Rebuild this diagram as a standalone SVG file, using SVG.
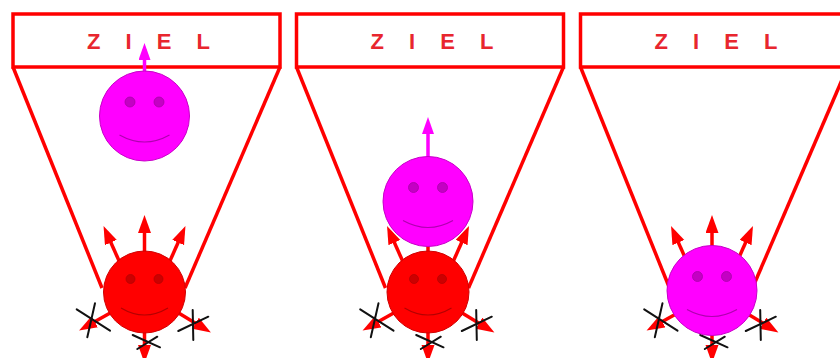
<svg xmlns="http://www.w3.org/2000/svg" width="840" height="358" viewBox="0 0 840 358">
  <style>
    .frame { fill: none; stroke: #ff0000; stroke-width: 3.5; stroke-linejoin: miter; }
    .goal { font-family: "Liberation Sans", Arial, sans-serif; font-size: 22px; font-weight: bold; letter-spacing: 9.5px; fill: #e8262e; }
    .push { fill: none; stroke: #ff0000; stroke-width: 3.5; marker-end: url(#headRed); }
    .lift { fill: none; stroke: #ff00ff; stroke-width: 3.5; marker-end: url(#headMagenta); }
    .block { stroke: #111111; stroke-width: 2; stroke-linecap: round; }
    .red-body { fill: #ff0000; stroke: #d00000; stroke-width: 1; }
    .red-eye { fill: #cc0000; stroke: #b80000; stroke-width: 0.8; }
    .red-mouth { fill: none; stroke: #b40000; stroke-width: 1.2; }
    .mag-body { fill: #ff00ff; stroke: #c800c8; stroke-width: 1; }
    .mag-eye { fill: #c400c4; stroke: #a800a8; stroke-width: 0.8; }
    .mag-mouth { fill: none; stroke: #b000b0; stroke-width: 1.2; }
  </style>
  <defs>
    <marker id="headRed" markerUnits="userSpaceOnUse" markerWidth="19" markerHeight="14" refX="11" refY="6.5" orient="auto">
      <path d="M0,0 L18,6.5 L0,13 Z" fill="#ff0000"/>
    </marker>
    <marker id="headMagenta" markerUnits="userSpaceOnUse" markerWidth="18" markerHeight="13" refX="11" refY="6" orient="auto">
      <path d="M0,0 L17,6 L0,12 Z" fill="#ff00ff"/>
    </marker>
    <!-- outward pushes of one body, centred on x=144.5 -->
    <g id="pushSet">
      <line class="push" x1="144.5" y1="262" x2="144.5" y2="222"/>
      <line class="push" x1="120" y1="263" x2="106.4" y2="232.5"/>
      <line class="push" x1="169" y1="263" x2="182.6" y2="232.5"/>
      <line class="push" x1="112" y1="312" x2="85.2" y2="327.1"/>
      <line class="push" x1="177" y1="312" x2="204.9" y2="328.9"/>
      <line class="push" x1="144.5" y1="325" x2="144.5" y2="356"/>
    </g>
    <!-- crosses over the blocked downward pushes -->
    <g id="blockSet">
      <line class="block" x1="76.7" y1="309.3" x2="110" y2="330.7"/>
      <line class="block" x1="95" y1="303.3" x2="87.3" y2="337.3"/>
      <line class="block" x1="178.3" y1="331" x2="208.3" y2="316.7"/>
      <line class="block" x1="192.7" y1="310" x2="193.3" y2="340"/>
      <line class="block" x1="132.7" y1="335" x2="160" y2="347.3"/>
      <line class="block" x1="137.3" y1="349" x2="157.3" y2="336.7"/>
    </g>
  </defs>

  <!-- goal funnels -->
  <g id="goal-1">
    <rect class="frame" x="13" y="14" width="267" height="53"/>
    <line class="frame" x1="13" y1="67" x2="102" y2="288"/>
    <line class="frame" x1="280" y1="67" x2="185" y2="288"/>
    <text class="goal" x="87" y="49">Z I E L</text>
  </g>
  <g id="goal-2">
    <rect class="frame" x="296.5" y="14" width="267" height="53"/>
    <line class="frame" x1="296.5" y1="67" x2="385.5" y2="288"/>
    <line class="frame" x1="563.5" y1="67" x2="468.5" y2="288"/>
    <text class="goal" x="370.5" y="49">Z I E L</text>
  </g>
  <g id="goal-3">
    <rect class="frame" x="580.5" y="14" width="267" height="53"/>
    <line class="frame" x1="580.5" y1="67" x2="669.5" y2="288"/>
    <line class="frame" x1="847.5" y1="67" x2="752.5" y2="288"/>
    <text class="goal" x="654.5" y="49">Z I E L</text>
  </g>

  <!-- pushes, their blocks and the free lifts -->
  <g id="connectors">
    <use href="#pushSet"/>
    <use href="#pushSet" transform="translate(283.5,0)"/>
    <use href="#pushSet" transform="translate(567.5,0)"/>
    <use href="#blockSet"/>
    <use href="#blockSet" transform="translate(283.5,0)"/>
    <use href="#blockSet" transform="translate(567.5,0)"/>
    <line class="lift" x1="144.5" y1="76" x2="144.5" y2="49"/>
    <line class="lift" x1="428" y1="160" x2="428" y2="123"/>
  </g>

  <!-- bodies -->
  <g id="red-1" transform="translate(144.5,292)">
    <circle class="red-body" r="41"/>
    <circle class="red-eye" cx="-14" cy="-13" r="4.5"/>
    <circle class="red-eye" cx="14" cy="-13" r="4.5"/>
    <path class="red-mouth" d="M-23.5,16 Q0,30 23.5,16"/>
  </g>
  <g id="red-2" transform="translate(428,292)">
    <circle class="red-body" r="41"/>
    <circle class="red-eye" cx="-14" cy="-13" r="4.5"/>
    <circle class="red-eye" cx="14" cy="-13" r="4.5"/>
    <path class="red-mouth" d="M-23.5,16 Q0,30 23.5,16"/>
  </g>
  <g id="magenta-1" transform="translate(144.5,116)">
    <circle class="mag-body" r="45"/>
    <circle class="mag-eye" cx="-14.5" cy="-14" r="5"/>
    <circle class="mag-eye" cx="14.5" cy="-14" r="5"/>
    <path class="mag-mouth" d="M-25,19 Q0,33 25,19"/>
  </g>
  <g id="magenta-2" transform="translate(428,201.5)">
    <circle class="mag-body" r="45"/>
    <circle class="mag-eye" cx="-14.5" cy="-14" r="5"/>
    <circle class="mag-eye" cx="14.5" cy="-14" r="5"/>
    <path class="mag-mouth" d="M-25,19 Q0,33 25,19"/>
  </g>
  <g id="magenta-3" transform="translate(712,290.5)">
    <circle class="mag-body" r="45"/>
    <circle class="mag-eye" cx="-14.5" cy="-14" r="5"/>
    <circle class="mag-eye" cx="14.5" cy="-14" r="5"/>
    <path class="mag-mouth" d="M-25,19 Q0,33 25,19"/>
  </g>
</svg>
